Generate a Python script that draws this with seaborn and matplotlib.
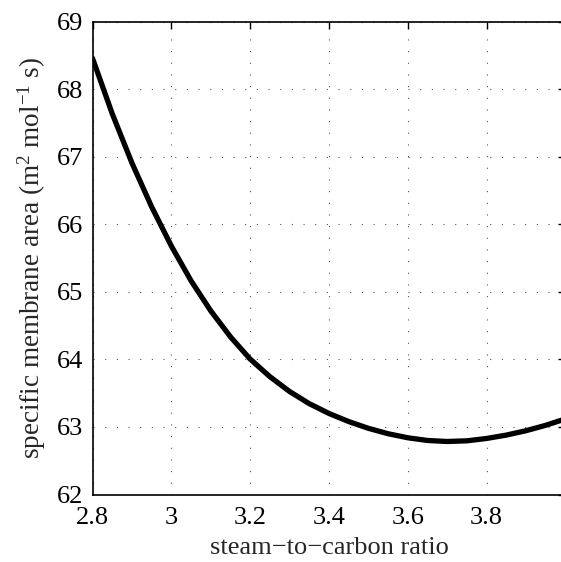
import numpy as np
import pandas as pd
import seaborn as sns
import matplotlib
matplotlib.use("Agg")
import matplotlib.pyplot as plt

# steam-to-carbon ratio vs specific membrane area
ratio = [2.80, 2.85, 2.90, 2.95, 3.00, 3.05, 3.10, 3.15, 3.20, 3.25,
         3.30, 3.35, 3.40, 3.45, 3.50, 3.55, 3.60, 3.65, 3.70, 3.75,
         3.80, 3.85, 3.90, 3.95, 4.00]
area = [68.46, 67.64, 66.91, 66.26, 65.68, 65.165, 64.72, 64.335, 64.005, 63.745,
        63.525, 63.345, 63.20, 63.08, 62.98, 62.90, 62.84, 62.80, 62.785, 62.795,
        62.83, 62.88, 62.945, 63.025, 63.12]
xticks = [2.8, 3.0, 3.2, 3.4, 3.6, 3.8]
xtick_labels = ["2.8", "3", "3.2", "3.4", "3.6", "3.8"]
yticks = [62, 63, 64, 65, 66, 67, 68, 69]

df = pd.DataFrame({"ratio": ratio, "area": area})

sns.set_style("white")
plt.rcParams["font.family"] = ["Liberation Serif", "DejaVu Serif"]
plt.rcParams["mathtext.fontset"] = "custom"
plt.rcParams["mathtext.rm"] = "Liberation Serif"
plt.rcParams["mathtext.it"] = "Liberation Serif:italic"

fig = plt.figure(figsize=(5.61, 5.62), dpi=100)
ax = fig.add_axes([0.1649, 0.1201, 0.8431, 0.8411])

sns.lineplot(data=df, x="ratio", y="area", color="black", linewidth=3.8, ax=ax)

ax.set_xlim(2.8, 4.0)
ax.set_ylim(62, 69)
ax.set_xticks(xticks)
ax.set_xticklabels(xtick_labels)
ax.set_yticks(yticks)

ax.grid(True, color="#555555", linestyle=(0, (1, 9.5)), linewidth=0.8)
ax.tick_params(direction="in", length=5, width=1.0, labelsize=19,
               top=True, right=True, colors="black")
ax.tick_params(axis="x", pad=9)
ax.tick_params(axis="y", pad=7)
for s in ax.spines.values():
    s.set_linewidth(1.2)
    s.set_color("black")

ax.set_xlabel("steam\u2212to\u2212carbon ratio", fontsize=19, labelpad=6)
ax.set_ylabel(r"specific membrane area (m$^2$ mol$^{-1}$ s)", fontsize=19.5, labelpad=6)

fig.savefig("out.png", dpi=100)
